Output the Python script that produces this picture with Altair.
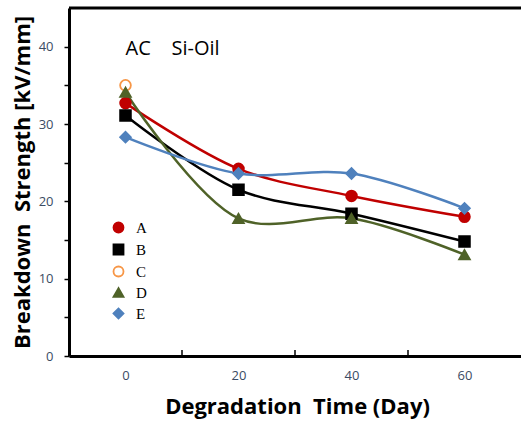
import altair as alt
import pandas as pd

# ---- data ----
days = [0, 20, 40, 60]
series_names = ["A", "B", "C", "D", "E"]
val_A = [32.7, 24.2, 20.7, 18.0]
val_B = [31.1, 21.5, 18.4, 14.8]
val_C = [35.0]
val_D = [34.1, 17.8, 17.8, 13.1]
val_E = [28.3, 23.6, 23.6, 19.1]

marker_shapes = ["circle", "square", "circle", "triangle-up", "diamond"]
fill_colors = ["#C00000", "#000000", "white", "#4F6228", "#4F81BD"]
stroke_colors = ["#C00000", "#000000", "#F79646", "#4F6228", "#4F81BD"]

x_labels = [0, 20, 40, 60]
x_minor_ticks = [10, 30, 50]
y_ticks = [0, 5, 10, 15, 20, 25, 30, 35, 40]

NB = "\u00a0"
ann_text = ["AC" + NB * 4 + "Si-Oil"]
ann_x = [0]
ann_y = [38.9]

rows = []
for name, vals in zip(series_names, [val_A, val_B, val_C, val_D, val_E]):
    for d, v in zip(days, vals):
        rows.append({"series": name, "day": d, "value": v})
df = pd.DataFrame(rows)
line_df = df[df["series"] != "C"].rename(columns={"series": "curve"})

W, H = 452, 348
label_color = "#3B4B63"

x_scale = alt.Scale(domain=[-10, 70], nice=False, zero=False)
y_scale = alt.Scale(domain=[0, 45], nice=False)

x_enc = alt.X(
    "day:Q",
    scale=x_scale,
    axis=alt.Axis(
        values=x_labels,
        ticks=False,
        grid=False,
        domainColor="black",
        domainWidth=3,
        labelFont="Open Sans",
        labelFontSize=13,
        labelColor=label_color,
        labelPadding=13,
        title="Degradation" + NB * 2 + "Time (Day)",
        titleFont="Open Sans",
        titleFontSize=22,
        titleFontWeight="bold",
        titleColor="black",
        titleX=228,
        titleY=50,
        titleAnchor="middle",
        titleAlign="center",
        titleBaseline="middle",
    ),
)
y_enc = alt.Y(
    "value:Q",
    scale=y_scale,
    axis=alt.Axis(
        values=y_ticks,
        labelExpr="datum.value % 10 == 0 ? datum.label : ''",
        grid=False,
        domainColor="black",
        domainWidth=3,
        tickColor="black",
        tickWidth=1.5,
        tickSize=5,
        labelFont="Open Sans",
        labelFontSize=13,
        labelColor=label_color,
        labelPadding=11,
        title="Breakdown" + NB * 2 + "Strength [kV/mm]",
        titleFont="Open Sans",
        titleFontSize=22,
        titleFontWeight="bold",
        titleColor="black",
        titleAngle=-90,
        titleX=-47,
        titleY=174,
        titleAlign="center",
        titleBaseline="middle",
    ),
)

lines = alt.Chart(line_df).mark_line(interpolate="catmull-rom", strokeWidth=2.5).encode(
    x=x_enc,
    y=y_enc,
    color=alt.Color("curve:N", scale=alt.Scale(domain=["A", "B", "D", "E"],
                                                 range=["#C00000", "#000000", "#4F6228", "#4F81BD"]),
                    legend=None),
)

legend = alt.Legend(
    title=None,
    orient="none",
    legendX=42,
    legendY=212,
    labelFont="Liberation Serif",
    labelFontSize=15,
    labelColor="black",
    labelOffset=10,
    rowPadding=3,
    symbolSize=100,
    symbolStrokeWidth=1.8,
)

points = alt.Chart(df).mark_point(size=115, opacity=1, strokeWidth=1.8).encode(
    x=alt.X("day:Q", scale=x_scale),
    y=alt.Y("value:Q", scale=y_scale),
    shape=alt.Shape("series:N", scale=alt.Scale(domain=series_names, range=marker_shapes), legend=legend),
    fill=alt.Fill("series:N", scale=alt.Scale(domain=series_names, range=fill_colors), legend=legend),
    stroke=alt.Stroke("series:N", scale=alt.Scale(domain=series_names, range=stroke_colors), legend=legend),
)

minor = alt.Chart(pd.DataFrame({"t": x_minor_ticks})).mark_rule(color="black", strokeWidth=1.5).encode(
    x=alt.X("t:Q", scale=x_scale),
    y=alt.value(H - 6),
    y2=alt.value(H),
)

top_border = alt.Chart(pd.DataFrame({"t": [0]})).mark_rule(color="black", strokeWidth=3).encode(
    x=alt.value(0),
    x2=alt.value(W),
    y=alt.value(0),
)

ann = alt.Chart(pd.DataFrame({"text": ann_text, "x": ann_x, "y": ann_y})).mark_text(
    align="left", baseline="alphabetic", font="Open Sans", fontSize=20, color="black"
).encode(
    x=alt.X("x:Q", scale=x_scale),
    y=alt.Y("y:Q", scale=y_scale),
    text="text:N",
)

chart = alt.layer(lines, points, minor, top_border, ann).resolve_scale(
    color="independent"
).properties(
    width=W,
    height=H,
    autosize=alt.AutoSizeParams(type="none"),
    padding={"left": 69, "top": 8, "right": 0, "bottom": 65},
).configure_view(stroke=None).configure(background="white")

chart.save("out.html", embed_options={"renderer": "svg", "actions": False})
